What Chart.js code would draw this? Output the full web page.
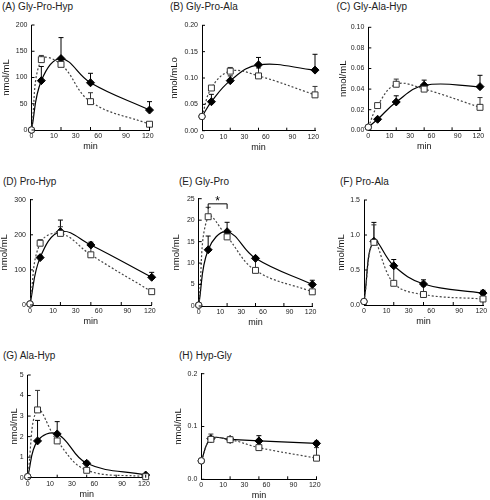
<!DOCTYPE html>
<html><head><meta charset="utf-8">
<script src="https://cdn.jsdelivr.net/npm/chart.js@4.4.1/dist/chart.umd.min.js"></script>
<style>
body{margin:0;background:#fff;width:490px;height:500px;position:relative;overflow:hidden;font-family:'Liberation Sans',Arial,sans-serif}
.ttl{position:absolute;font-size:10px;line-height:10px;white-space:nowrap;color:#222}
canvas{position:absolute}
</style></head><body>
<script>
// ---- data ----
const times = [0, 5, 15, 45, 120];               // sampling times (min)
const xTickLabels = ['0', '10', '30', '60', '90', '120'];

const panelTitles = ['(A) Gly-Pro-Hyp', '(B) Gly-Pro-Ala', '(C) Gly-Ala-Hyp', '(D) Pro-Hyp',
                     '(E) Gly-Pro', '(F) Pro-Ala', '(G) Ala-Hyp', '(H) Hyp-Gly'];
const yTitles = ['nmol/mL', 'nmol/mLo', 'nmol/mL', 'nmol/mL', 'nmol/mL', 'nmol/mL', 'nmol/mL', 'nmol/mL'];
const yMaxes = [200, 0.2, 0.1, 300, 25, 1.5, 5, 0.2];
const ySteps = [50, 0.05, 0.02, 100, 5, 0.5, 1, 0.1];
const yDecimals = [0, 2, 2, 0, 0, 1, 0, 1];

// solid line (filled diamonds) and dotted line (open squares), means and upper error
const solidA = [0, 94, 136, 90, 38],            solidErrA = [0, 27, 40, 18, 16];
const dottedA = [0, 134, 125, 54, 11],          dottedErrA = [0, 8, 4, 17, 2];
const solidB = [0.027, 0.055, 0.095, 0.125, 0.115],  solidErrB = [0, 0.014, 0.009, 0.014, 0.030];
const dottedB = [0.027, 0.081, 0.113, 0.104, 0.068], dottedErrB = [0, 0.003, 0.007, 0.015, 0.016];
const solidC = [0.003, 0.0107, 0.0275, 0.0437, 0.0424], solidErrC = [0, 0.001, 0.006, 0.005, 0.011];
const dottedC = [0.003, 0.024, 0.0447, 0.040, 0.0223],  dottedErrC = [0, 0.001, 0.005, 0.003, 0.0095];
const solidD = [3, 135, 209, 171, 79],          solidErrD = [0, 5, 33, 8, 14];
const dottedD = [3, 176, 204, 143, 38],         dottedErrD = [0, 10, 19, 30, 3];
const solidE = [0.2, 13.1, 17.3, 11.1, 5.0],    solidErrE = [0, 3.2, 2.2, 0.4, 1.0];
const dottedE = [0.2, 20.8, 16.1, 8.3, 3.3],    dottedErrE = [0, 2.2, 0.3, 2.8, 0.3];
const solidF = [0.05, 0.91, 0.56, 0.30, 0.17],  solidErrF = [0, 0.27, 0.09, 0.06, 0.04];
const dottedF = [0.05, 0.895, 0.31, 0.15, 0.086], dottedErrF = [0, 0.25, 0.25, 0.12, 0.01];
const solidG = [0.05, 1.79, 2.13, 0.70, 0.13],  solidErrG = [0, 1.0, 0.6, 0.1, 0.05];
const dottedG = [0.05, 3.3, 1.79, 0.36, 0.05],  dottedErrG = [0, 0.95, 0.1, 0.05, 0.02];
const solidH = [0.035, 0.077, 0.0755, 0.0726, 0.068], solidErrH = [0, 0.004, 0.003, 0.010, 0.004];
const dottedH = [0.035, 0.0757, 0.075, 0.060, 0.040], dottedErrH = [0, 0.010, 0.003, 0.004, 0.020];

const solidSeries = [solidA, solidB, solidC, solidD, solidE, solidF, solidG, solidH];
const solidErrs = [solidErrA, solidErrB, solidErrC, solidErrD, solidErrE, solidErrF, solidErrG, solidErrH];
const dottedSeries = [dottedA, dottedB, dottedC, dottedD, dottedE, dottedF, dottedG, dottedH];
const dottedErrs = [dottedErrA, dottedErrB, dottedErrC, dottedErrD, dottedErrE, dottedErrF, dottedErrG, dottedErrH];

// significance bracket in panel E (between 5 and 15 min)
const sigPanel = 4, sigFrom = 5, sigTo = 15, sigLevel = 23.8, sigLabel = '*';

// ---- axis layout (broken time axis) ----
const xBreakTimes = [0, 15, 45, 120];
const xBreakSpots = [0, 0.25, 0.5, 1];
const xTickSpots = [0, 0.19, 0.375, 0.565, 0.80, 0.985];
const xTickMarks = [0.25, 0.5, 0.75, 1];
function warp(t) {
  for (let i = 1; i < xBreakTimes.length; i++) {
    if (t <= xBreakTimes[i]) {
      const a = xBreakTimes[i - 1], b = xBreakTimes[i];
      return xBreakSpots[i - 1] + (t - a) / (b - a) * (xBreakSpots[i] - xBreakSpots[i - 1]);
    }
  }
  return 1;
}

// chart area boxes [left, top, right, bottom], y-title centre x, title position
const plotBoxes = [
  [31.5, 25, 149.5, 130], [202, 25.3, 315, 130.7], [368.3, 27.3, 480, 130.3],
  [30, 199.7, 151.7, 305], [198.7, 198.7, 312.3, 306], [364, 200, 483, 305],
  [27.7, 375, 145.7, 477.7], [201.3, 373.7, 316.5, 479.3]
];
const yTitleX = [7.3, 175, 344, 5.5, 177.3, 342.3, 15, 179];
const titlePos = [[2, 1.5], [170, 1.5], [336.5, 1.5], [3, 176.8], [179, 176.5], [340, 176.8], [3, 350.5], [179, 350.5]];

const FONT = "'Liberation Sans', Arial, sans-serif";

const decor = {
  id: 'decor',
  beforeDatasetsDraw(chart) {
    const ctx = chart.ctx, xs = chart.scales.x, ys = chart.scales.y;
    chart.data.datasets.forEach(ds => {
      if (!ds.errs) return;
      ctx.save();
      ctx.strokeStyle = ds.errColor; ctx.lineWidth = 1;
      ds.data.forEach((p, j) => {
        const e = ds.errs[j]; if (!e) return;
        const x = xs.getPixelForValue(p.x), y0 = ys.getPixelForValue(p.y), y1 = ys.getPixelForValue(p.y + e);
        ctx.beginPath();
        ctx.moveTo(x, y0); ctx.lineTo(x, y1);
        ctx.moveTo(x - 2.5, y1); ctx.lineTo(x + 2.5, y1);
        ctx.stroke();
      });
      ctx.restore();
    });
  },
  afterDraw(chart, args, opts) {
    const ctx = chart.ctx, xs = chart.scales.x, ys = chart.scales.y, ca = chart.chartArea;
    ctx.save();
    ctx.strokeStyle = '#000'; ctx.lineWidth = 1;
    ctx.beginPath();
    ys.ticks.forEach(t => { const y = ys.getPixelForValue(t.value); ctx.moveTo(ca.left, y); ctx.lineTo(ca.left + 3, y); });
    xTickMarks.forEach(f => { const x = xs.getPixelForValue(f); ctx.moveTo(x, ca.bottom); ctx.lineTo(x, ca.bottom - 3); });
    ctx.stroke();
    if (opts && opts.bracket) {
      const b = opts.bracket;
      const x1 = xs.getPixelForValue(warp(b.from)), x2 = xs.getPixelForValue(warp(b.to));
      const y = ys.getPixelForValue(b.level);
      ctx.beginPath();
      ctx.moveTo(x1, y + 5); ctx.lineTo(x1, y); ctx.lineTo(x2, y); ctx.lineTo(x2, y + 5);
      ctx.stroke();
      ctx.fillStyle = '#000';
      ctx.font = '12px ' + FONT;
      ctx.textAlign = 'center'; ctx.textBaseline = 'middle';
      ctx.fillText(b.label, (x1 + x2) / 2, y - 2);
    }
    ctx.restore();
  }
};

plotBoxes.forEach((box, k) => {
  const [L, T, R, B] = box;
  const t = document.createElement('div');
  t.className = 'ttl'; t.textContent = panelTitles[k];
  t.style.left = titlePos[k][0] + 'px'; t.style.top = titlePos[k][1] + 'px';
  document.body.appendChild(t);

  const cl = Math.floor(yTitleX[k] - 5.7);
  const yw = L - cl;
  const ct = Math.floor(T - 9);
  const pt = T - ct;
  const xh = 22.1;
  const cw = Math.ceil(yw + (R - L) + 14);
  const ch = Math.ceil(pt + (B - T) + xh + 1);
  const padR = cw - yw - (R - L);
  const padB = ch - pt - (B - T) - xh;

  const cv = document.createElement('canvas');
  cv.width = cw; cv.height = ch;
  cv.style.left = cl + 'px'; cv.style.top = ct + 'px';
  cv.style.width = cw + 'px'; cv.style.height = ch + 'px';
  document.body.appendChild(cv);

  const solidPts = times.map((tm, i) => ({ x: warp(tm), y: solidSeries[k][i] }));
  const dottedPts = times.map((tm, i) => ({ x: warp(tm), y: dottedSeries[k][i] }));
  const firstOpen = (style) => times.map((tm, i) => i === 0 ? 'circle' : style);

  new Chart(cv, {
    type: 'line',
    data: {
      datasets: [
        {
          data: solidPts, errs: solidErrs[k], errColor: '#000', clip: false,
          borderColor: '#000', borderWidth: 1.2, tension: 0.4, fill: false,
          pointStyle: firstOpen('rectRot'),
          pointRadius: times.map((tm, i) => i === 0 ? 3.2 : 4),
          pointBackgroundColor: times.map((tm, i) => i === 0 ? '#fff' : '#000'),
          pointBorderColor: '#000', pointBorderWidth: 1, order: 1
        },
        {
          data: dottedPts, errs: dottedErrs[k], errColor: '#333', clip: false,
          borderColor: '#444', borderWidth: 1.2, borderDash: [2, 2], tension: 0.4, fill: false,
          pointStyle: firstOpen('rect'),
          pointRadius: times.map((tm, i) => i === 0 ? 3.2 : 4.2),
          pointBackgroundColor: '#fff', pointBorderColor: '#333', pointBorderWidth: 1, order: 0
        }
      ]
    },
    options: {
      responsive: false, animation: false, events: [],
      layout: { padding: { top: pt, right: padR, bottom: padB, left: 0 } },
      plugins: {
        legend: { display: false }, tooltip: { enabled: false }, title: { display: false },
        decor: k === sigPanel ? { bracket: { from: sigFrom, to: sigTo, level: sigLevel, label: sigLabel } } : {}
      },
      scales: {
        x: {
          type: 'linear', min: 0, max: 1,
          afterBuildTicks: s => { s.ticks = xTickSpots.map(v => ({ value: v })); },
          afterFit: s => { s.height = xh; },
          ticks: { autoSkip: false, maxRotation: 0, padding: 2, color: '#222', font: { family: FONT, size: 7 },
                   callback: (v, i) => xTickLabels[i] },
          grid: { display: true, drawOnChartArea: false, drawTicks: false },
          border: { display: true, color: '#000', width: 1 },
          title: { display: true, text: 'min', color: '#111', padding: 0, font: { family: FONT, size: 9 } }
        },
        y: {
          type: 'linear', min: 0, max: yMaxes[k],
          afterFit: s => { s.width = yw; },
          ticks: { stepSize: ySteps[k], padding: 4, color: '#222', font: { family: FONT, size: 7 },
                   callback: v => Number(v).toFixed(yDecimals[k]) },
          grid: { display: true, drawOnChartArea: false, drawTicks: false },
          border: { display: true, color: '#000', width: 1 },
          title: { display: true, text: yTitles[k], color: '#111', padding: 0, font: { family: FONT, size: 9.5 } }
        }
      }
    },
    plugins: [decor]
  });
});
</script>
</body></html>
